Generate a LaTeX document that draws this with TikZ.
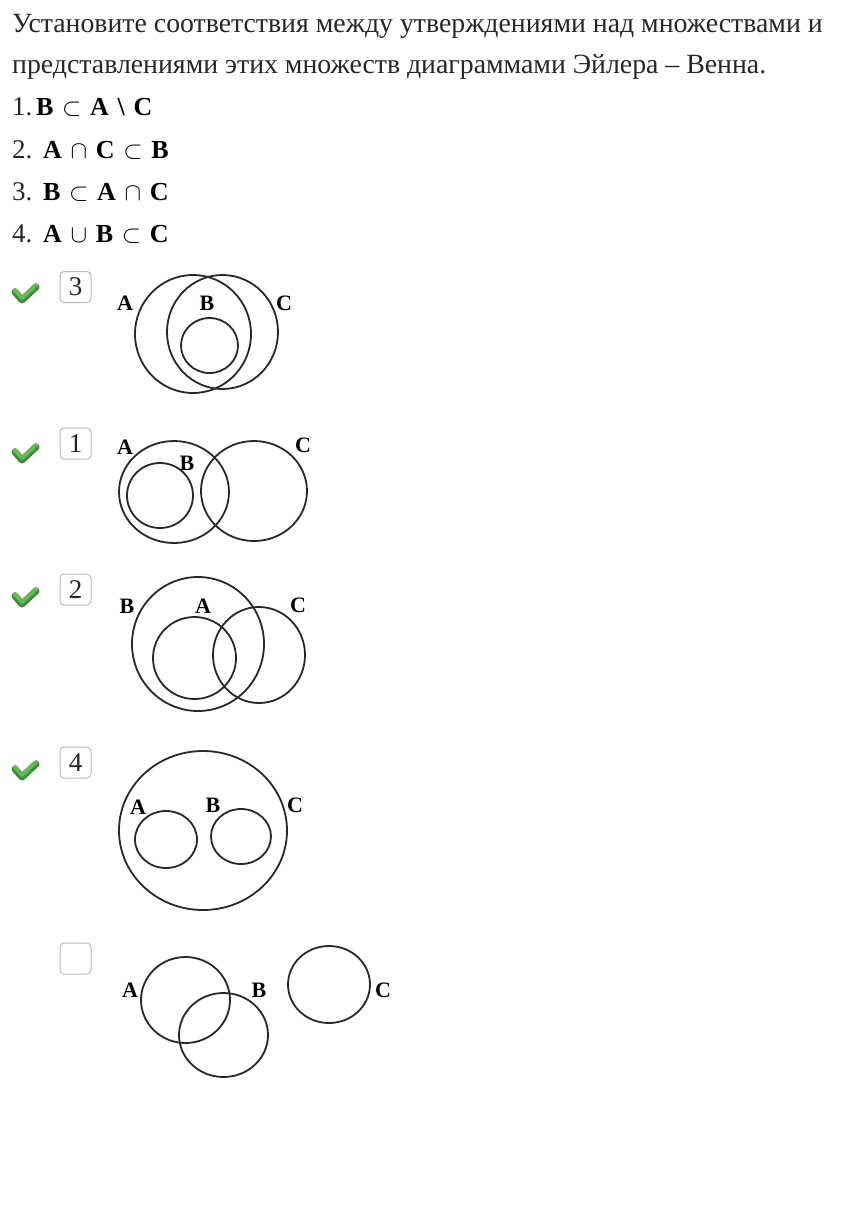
\documentclass[tikz,border=0pt]{standalone}
\usepackage{fontspec}
\setmainfont{Liberation Serif}
\usetikzlibrary{positioning, shapes.geometric}
\newcommand{\qfont}  {\fontsize{27.8pt}{32pt}\selectfont}
\newcommand{\numfont}{\fontsize{27pt}{32pt}\selectfont}
\newcommand{\lblfont}{\fontsize{22pt}{24pt}\selectfont\bfseries}
\newcommand{\frmfont}{\fontsize{26pt}{28pt}\selectfont\bfseries}
\definecolor{inkgray}  {RGB}{40, 40, 40}
\definecolor{boxgray}  {RGB}{185, 185, 185}
\definecolor{okgreen}  {RGB}{104, 184, 90}
\definecolor{okdark}   {RGB}{62, 140, 58}
\tikzset{
  % Euler circle
  setc/.style={
    ellipse, draw=inkgray, line width=1.8pt, inner sep=0pt
  },
  % Set letter
  setlbl/.style={font=\lblfont, text=black, inner sep=0pt},
  % Question line
  qline/.style={anchor=base west, font=\qfont, inner sep=0pt, text=black!85},
  % Statement formula
  frm/.style={anchor=base west, font=\frmfont, inner sep=0pt},
  % Answer box
  ansbox/.style={
    rectangle, rounded corners=4pt, draw=boxgray, line width=1pt,
    minimum width=31pt, minimum height=31pt, inner sep=0pt,
    font=\numfont, text=black!85
  },
  % Green tick
  okmark/.pic={
    \draw[okdark, line width=7pt, line cap=round, line join=round]
      (-10,-2) -- (-3,6) -- (11,-7);
    \draw[okgreen, line width=4pt, line cap=round, line join=round]
      (-10,-4) -- (-3,4) -- (11,-9);
  },
}

\begin{document}
\begin{tikzpicture}[x=1pt, y=-1pt]
  \useasboundingbox (0,0) rectangle (842,1229);

  \node[qline] (q1) at (12,32)  {Установите соответствия между утверждениями над множествами и};
  \node[qline] (q2) at (12,73)  {представлениями этих множеств диаграммами Эйлера – Венна.};
  \node[qline, font=\numfont] (n1) at (12,115) {1.};
  \node[qline, font=\numfont] (n2) at (12,158) {2.};
  \node[qline, font=\numfont] (n3) at (12,200) {3.};
  \node[qline, font=\numfont] (n4) at (12,242) {4.};
  \node[frm] (f1) at (36,115) {B\,\,$\subset$\,\,A\,\,\textbackslash\,\,C};
  \node[frm] (f2) at (43,158) {A\,\,$\cap$\,\,C\,\,$\subset$\,\,B};
  \node[frm] (f3) at (43,200) {B\,\,$\subset$\,\,A\,\,$\cap$\,\,C};
  \node[frm] (f4) at (43,242) {A\,\,$\cup$\,\,B\,\,$\subset$\,\,C};

  % answer 3
  \pic at (25,294) {okmark};
  \node[ansbox] (b3) at (75.5,287) {3};
  \node[setc, minimum width=116pt, minimum height=118pt] (A3) at (193,334) {};
  \node[setc, minimum width=111pt, minimum height=114pt] (C3) at (222.5,332) {};
  \node[setc, minimum width=57pt,  minimum height=55pt]  (B3) at (209.5,345.5) {};
  \node[setlbl] (lA3) at (125,303) {A};
  \node[setlbl] (lB3) at (207,303) {B};
  \node[setlbl] (lC3) at (284,303) {C};

  % answer 1
  \pic at (25,454) {okmark};
  \node[ansbox] (b1) at (75.5,443.5) {1};
  \node[setc, minimum width=110pt, minimum height=102pt] (A1) at (174,492) {};
  \node[setc, minimum width=66pt,  minimum height=65pt]  (B1) at (160,495.5) {};
  \node[setc, minimum width=106pt, minimum height=100pt] (C1) at (254,491) {};
  \node[setlbl] (lA1) at (125,447) {A};
  \node[setlbl] (lB1) at (187,463) {B};
  \node[setlbl] (lC1) at (303,445) {C};

  % answer 2
  \pic at (25,598) {okmark};
  \node[ansbox] (b2) at (75.5,589.5) {2};
  \node[setc, minimum width=132pt, minimum height=134pt] (B2) at (198,644) {};
  \node[setc, minimum width=83pt,  minimum height=82pt]  (A2) at (194.5,658) {};
  \node[setc, minimum width=92pt,  minimum height=96pt]  (C2) at (259,655) {};
  \node[setlbl] (lB2) at (127,606) {B};
  \node[setlbl] (lA2) at (203,606) {A};
  \node[setlbl] (lC2) at (298,605) {C};

  % answer 4
  \pic at (25,771) {okmark};
  \node[ansbox] (b4) at (75.5,762.5) {4};
  \node[setc, minimum width=168pt, minimum height=159pt] (C4) at (203,830.5) {};
  \node[setc, minimum width=62pt,  minimum height=57pt]  (A4) at (166,839.5) {};
  \node[setc, minimum width=60pt,  minimum height=55pt]  (B4) at (241,836.5) {};
  \node[setlbl] (lA4) at (138,807) {A};
  \node[setlbl] (lB4) at (213,805) {B};
  \node[setlbl] (lC4) at (295,805) {C};

  % unused diagram
  \node[ansbox] (b5) at (75.5,958.5) {};
  \node[setc, minimum width=89pt, minimum height=86pt] (A5) at (185.5,1000) {};
  \node[setc, minimum width=89pt, minimum height=84pt] (B5) at (223.5,1035) {};
  \node[setc, minimum width=82pt, minimum height=77pt] (C5) at (329,984.5) {};
  \node[setlbl] (lA5) at (130,990) {A};
  \node[setlbl] (lB5) at (259,990) {B};
  \node[setlbl] (lC5) at (383,990) {C};
\end{tikzpicture}
\end{document}
